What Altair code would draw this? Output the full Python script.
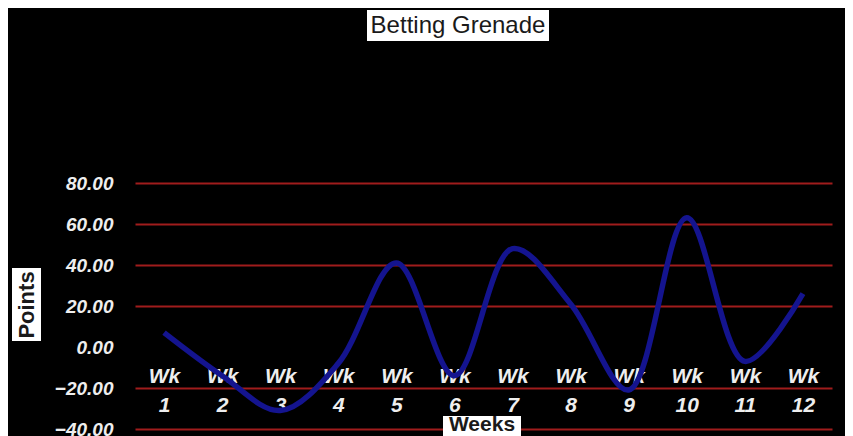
import altair as alt
import pandas as pd

weeks = ["Wk 1", "Wk 2", "Wk 3", "Wk 4", "Wk 5", "Wk 6", "Wk 7", "Wk 8", "Wk 9", "Wk 10", "Wk 11", "Wk 12"]
points = [7, -14, -31, -8, 41, -14, 48, 21, -21, 63, -7, 26]
y_ticks = [-40, -20, 0, 20, 40, 60, 80]

df = pd.DataFrame({"week": weeks, "points": points})

FONT = "Liberation Sans"

base = alt.Chart(df)

line = base.mark_line(color="#14148f", strokeWidth=5.5, interpolate="catmull-rom").encode(
    x=alt.X("week:N", sort=weeks, title=None,
            scale=alt.Scale(paddingInner=0, paddingOuter=0.5),
            axis=alt.Axis(orient="bottom", offset=-82, domain=False, ticks=False, labelAngle=0,
                          labelExpr="split(datum.label, ' ')", labelLineHeight=29,
                          labelPadding=18, labelFont=FONT, labelFontSize=21,
                          labelFontWeight="bold", labelFontStyle="italic",
                          labelColor="#eeeeee", grid=False)),
    y=alt.Y("points:Q", title=None,
            scale=alt.Scale(domain=[-40, 80], nice=False, zero=False),
            axis=alt.Axis(values=y_ticks, format=".2f", domain=False, ticks=False,
                          labelPadding=22, labelFont=FONT, labelFontSize=19,
                          labelFontWeight="bold", labelFontStyle="italic",
                          labelColor="#eeeeee", grid=True,
                          gridColor=alt.condition("datum.value == 0", alt.value("black"), alt.value("#a01c1c")),
                          gridWidth=2)),
)

title_df = pd.DataFrame({"t": ["Betting Grenade"]})
title_box = alt.Chart(title_df).mark_rect(color="white").encode(
    x=alt.value(232), x2=alt.value(414), y=alt.value(-173), y2=alt.value(-142))
title_txt = alt.Chart(title_df).mark_text(font=FONT, fontSize=24, color="#1a1a1a", baseline="middle", align="center").encode(
    x=alt.value(323), y=alt.value(-157), text="t")

ytitle_df = pd.DataFrame({"t": ["Points"]})
ytitle_box = alt.Chart(ytitle_df).mark_rect(color="white").encode(
    x=alt.value(-123), x2=alt.value(-94), y=alt.value(85), y2=alt.value(158))
ytitle_txt = alt.Chart(ytitle_df).mark_text(font=FONT, fontSize=22, fontWeight="bold", color="#1a1a1a",
                                            angle=270, baseline="middle", align="center").encode(
    x=alt.value(-108), y=alt.value(122), text="t")

xtitle_df = pd.DataFrame({"t": ["Weeks"]})
xtitle_box = alt.Chart(xtitle_df).mark_rect(color="white").encode(
    x=alt.value(308), x2=alt.value(386), y=alt.value(233), y2=alt.value(256))
xtitle_txt = alt.Chart(xtitle_df).mark_text(font=FONT, fontSize=21, fontWeight="bold", color="#1a1a1a",
                                            baseline="middle", align="center").encode(
    x=alt.value(347), y=alt.value(242), text="t")

chart = alt.layer(line, title_box, title_txt, ytitle_box, ytitle_txt, xtitle_box, xtitle_txt).properties(
    width=697, height=246,
    autosize=alt.AutoSizeParams(type="none"),
    padding={"left": 127, "top": 175, "right": 13, "bottom": 7},
    background="black",
).configure_view(stroke=None)

chart.save("out.html", embed_options={"renderer": "svg", "actions": False})
